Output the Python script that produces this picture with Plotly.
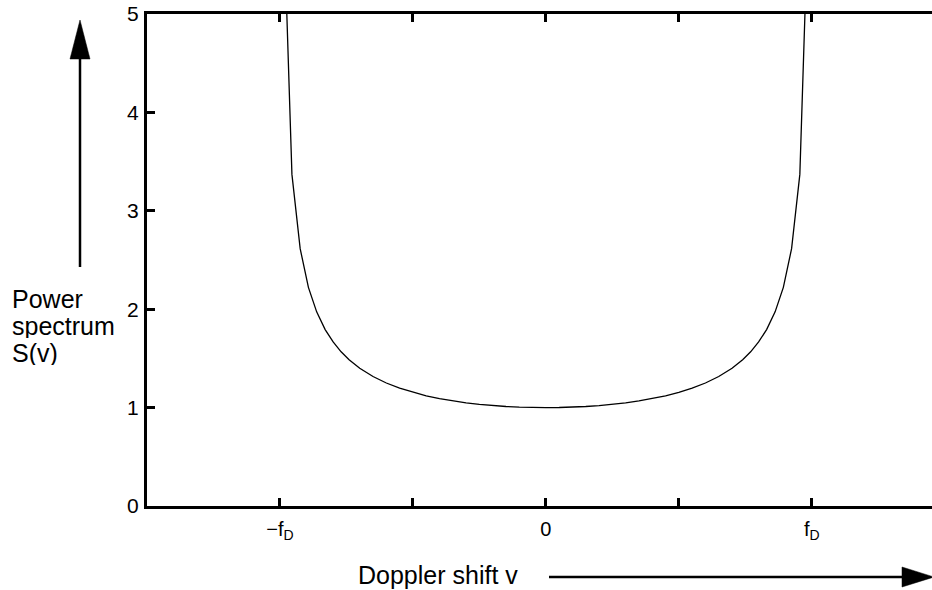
import plotly.graph_objects as go

# Doppler shift in units of the maximum Doppler frequency f_D
doppler_shift = [-0.986, -0.955, -0.924, -0.893, -0.862, -0.83, -0.80, -0.77, -0.74,
                 -0.70, -0.65, -0.60, -0.55, -0.50, -0.45, -0.40, -0.35, -0.30, -0.25,
                 -0.20, -0.15, -0.10, -0.05, 0.0, 0.05, 0.10, 0.15, 0.20, 0.25, 0.30,
                 0.35, 0.40, 0.45, 0.50, 0.55, 0.60, 0.65, 0.70, 0.74, 0.77, 0.80, 0.83,
                 0.862, 0.893, 0.924, 0.955, 0.986]

# Power spectrum S(v)
power_spectrum = [6.00, 3.37, 2.615, 2.222, 1.973, 1.793, 1.667, 1.567, 1.487,
                  1.400, 1.316, 1.250, 1.197, 1.155, 1.120, 1.091, 1.068, 1.048, 1.033,
                  1.021, 1.011, 1.005, 1.001, 1.000, 1.001, 1.005, 1.011, 1.021, 1.033, 1.048,
                  1.068, 1.091, 1.120, 1.155, 1.197, 1.250, 1.316, 1.400, 1.487, 1.567, 1.667, 1.793,
                  1.973, 2.222, 2.615, 3.37, 6.00]

x_tick_values = [-1.0, -0.5, 0.0, 0.5, 1.0]
x_tick_labels = ["\u2212f<sub>D</sub>", "", "0", "", "f<sub>D</sub>"]
y_tick_values = [0, 1, 2, 3, 4, 5]

y_label_lines = ["Power", "spectrum", "S(v)"]
x_label = "Doppler shift v"

FONT = "Liberation Sans, Arial, Helvetica, sans-serif"
W, H = 932, 590
L, R, T, B = 147, 0, 14, 84


def px(x):
    return (x - L) / (W - L - R)


def py(y):
    return (H - B - y) / (H - T - B)


fig = go.Figure()
fig.add_trace(go.Scatter(
    x=doppler_shift, y=power_spectrum, mode="lines",
    line=dict(color="black", width=1.3), hoverinfo="skip", showlegend=False,
))

shapes = [
    # vertical arrow beside the y-axis label
    dict(type="line", xref="paper", yref="paper",
         x0=px(80), x1=px(80), y0=py(267), y1=py(56),
         line=dict(color="black", width=2.5)),
    dict(type="path", xref="paper", yref="paper",
         path=f"M {px(70)},{py(59)} L {px(90)},{py(59)} L {px(80)},{py(20)} Z",
         fillcolor="black", line=dict(color="black", width=0.5)),
    # horizontal arrow beside the x-axis label
    dict(type="line", xref="paper", yref="paper",
         x0=px(549), x1=px(905), y0=py(577), y1=py(577),
         line=dict(color="black", width=2.5)),
    dict(type="path", xref="paper", yref="paper",
         path=f"M {px(902)},{py(567)} L {px(902)},{py(587)} L {px(934)},{py(577)} Z",
         fillcolor="black", line=dict(color="black", width=0.5)),
]

annotations = [
    dict(text=x_label, xref="paper", yref="paper",
         x=px(356), y=py(575), xanchor="left", yanchor="middle", showarrow=False,
         font=dict(family=FONT, size=25, color="black")),
]
for line_text, line_y in zip(y_label_lines, [299, 326, 353]):
    annotations.append(dict(
        text=line_text, xref="paper", yref="paper",
        x=px(10), y=py(line_y), xanchor="left", yanchor="middle",
        height=24, valign="middle",
        showarrow=False, font=dict(family=FONT, size=25, color="black"),
    ))

fig.update_layout(
    width=W, height=H,
    margin=dict(l=L, r=R, t=T, b=B, pad=0),
    paper_bgcolor="white", plot_bgcolor="white",
    font=dict(family=FONT, size=21, color="black"),
    shapes=shapes, annotations=annotations,
    xaxis=dict(
        range=[-1.5, 1.452], tickvals=x_tick_values, ticktext=x_tick_labels,
        ticks="inside", ticklen=8, tickwidth=3, tickcolor="black",
        showline=True, linecolor="black", linewidth=3, mirror="ticks",
        showgrid=False, zeroline=False, ticklabelstandoff=3,
        tickfont=dict(family=FONT, size=20, color="black"),
    ),
    yaxis=dict(
        range=[0, 5], tickvals=y_tick_values,
        ticks="inside", ticklen=8, tickwidth=3, tickcolor="black",
        showline=True, linecolor="black", linewidth=3, mirror=False,
        showgrid=False, zeroline=False, ticklabelstandoff=1,
        tickfont=dict(family=FONT, size=21, color="black"),
    ),
)

fig.write_html("out.html")
